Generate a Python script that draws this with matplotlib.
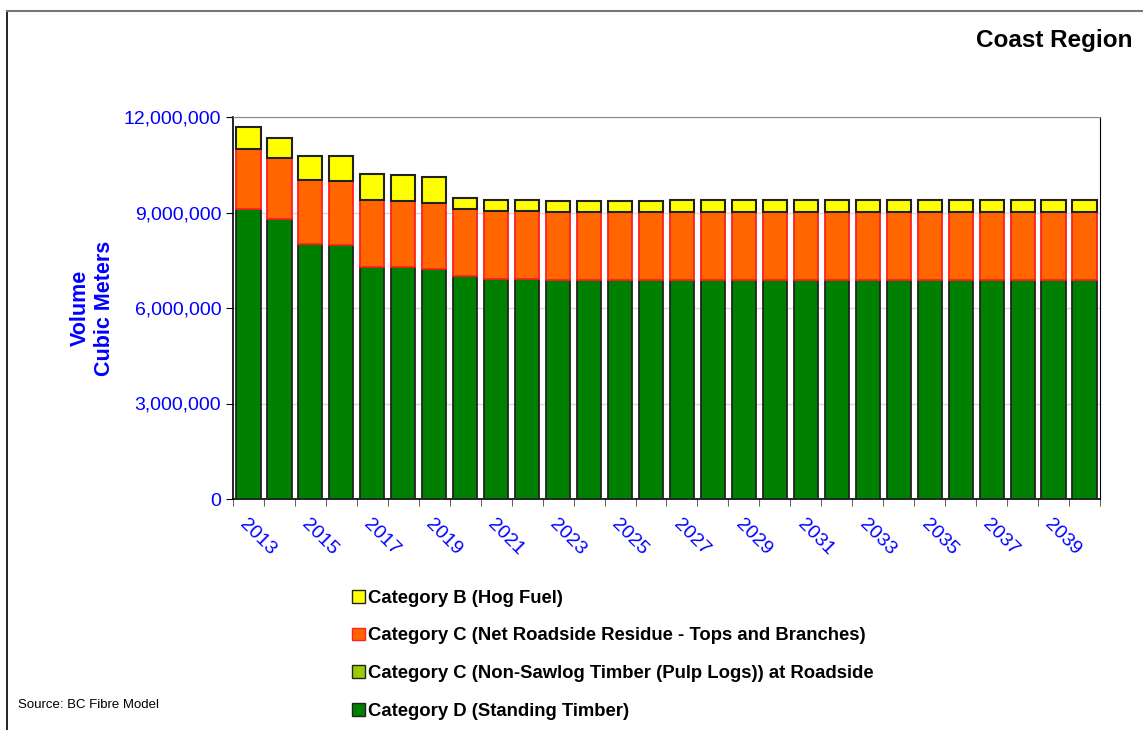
import numpy as np
import matplotlib.pyplot as plt
from matplotlib.patches import Patch
from matplotlib.lines import Line2D
from matplotlib.ticker import FuncFormatter

plt.rcParams['font.family'] = ['Liberation Sans', 'DejaVu Sans']

# datos (metros cubicos)
years = list(range(2013, 2041))
cat_d = [9120000, 8810000, 8010000, 7980000, 7300000, 7280000, 7220000, 7010000,
         6920000, 6920000, 6890000, 6890000, 6890000, 6890000, 6890000, 6890000,
         6890000, 6890000, 6890000, 6890000, 6890000, 6890000, 6890000, 6890000,
         6890000, 6890000, 6890000, 6890000]
cat_c_pulp = [0] * 28
cat_c_resid = [1870000, 1910000, 2010000, 2020000, 2090000, 2090000, 2090000, 2110000,
               2130000, 2130000, 2130000, 2130000, 2130000, 2130000, 2130000, 2130000,
               2130000, 2130000, 2130000, 2130000, 2130000, 2130000, 2130000, 2130000,
               2130000, 2130000, 2130000, 2130000]
cat_b = [690000, 630000, 760000, 770000, 810000, 800000, 810000, 350000,
         340000, 340000, 340000, 340000, 340000, 340000, 370000, 370000,
         370000, 370000, 370000, 370000, 370000, 370000, 370000, 370000,
         370000, 370000, 370000, 370000]

fig = plt.figure(figsize=(11.43, 7.30), dpi=100)
ax = fig.add_axes([233 / 1143, 1 - 499 / 730, (1100 - 233) / 1143, (499 - 117) / 730])

x = np.arange(len(years))
w = 0.78
d = np.array(cat_d)
p = np.array(cat_c_pulp)
r = np.array(cat_c_resid)
b = np.array(cat_b)

ax.bar(x, d, w, color='#008000', edgecolor='#222222', linewidth=1.3, zorder=3)
ax.bar(x, p, w, bottom=d, color='#99CC00', edgecolor='#222222', linewidth=1.3, zorder=3)
ax.bar(x, r, w, bottom=d + p, color='#FF6600', edgecolor='#FF2020', linewidth=1.3, zorder=3)
ax.bar(x, b, w, bottom=d + p + r, color='#FFFF00', edgecolor='#222222', linewidth=1.5, zorder=3)

ax.set_xlim(-0.5, len(years) - 0.5)
ax.set_ylim(0, 12000000)
ax.set_yticks([0, 3000000, 6000000, 9000000, 12000000])
ax.yaxis.set_major_formatter(FuncFormatter(lambda v, pos: f'{int(v):,}'))
ax.tick_params(axis='y', colors='black', labelcolor='#0000FF', labelsize=14, length=5, direction='out')
ax.grid(axis='y', color='#D9D9D9', linewidth=1, zorder=0)

# etiquetas de años impares
ax.set_xticks(x[::2])
ax.set_xticklabels([str(yr) for yr in years[::2]], rotation=-45, ha='left', va='top',
                   rotation_mode='anchor', color='#0000FF', fontsize=14)
ax.tick_params(axis='x', which='major', length=0, pad=12)
ax.set_xticks(np.arange(-0.5, len(years)), minor=True)
ax.tick_params(axis='x', which='minor', length=5, color='#444444')

ax.spines['top'].set_color('#888888')
ax.spines['left'].set_linewidth(1.2)
ax.spines['bottom'].set_linewidth(1.2)

ax.set_ylabel('Volume\nCubic Meters', color='#0000FF', fontsize=15.5, fontweight='bold',
              labelpad=6, linespacing=1.25)

fig.text(1133 / 1143, 1 - 40 / 730, 'Coast Region', ha='right', va='center',
         fontsize=17.5, fontweight='bold')
fig.text(18 / 1143, 1 - 705 / 730, 'Source: BC Fibre Model', ha='left', va='center',
         fontsize=9.5)

handles = [Patch(facecolor='#FFFF00', edgecolor='#222222'),
           Patch(facecolor='#FF6600', edgecolor='#FF2020'),
           Patch(facecolor='#99CC00', edgecolor='#222222'),
           Patch(facecolor='#008000', edgecolor='#222222')]
labels = ['Category B (Hog Fuel)',
          'Category C (Net Roadside Residue - Tops and Branches)',
          'Category C (Non-Sawlog Timber (Pulp Logs)) at Roadside',
          'Category D (Standing Timber)']
leg = fig.legend(handles, labels, loc='upper left', bbox_to_anchor=(335 / 1143, 1 - 573 / 730),
                 frameon=False, handlelength=0.7, handleheight=0.7, handletextpad=0.2,
                 labelspacing=1.13, prop={'weight': 'bold', 'size': 13.3})

# marco de la imagen
fig.add_artist(Line2D([7 / 1143, 7 / 1143], [0, 1 - 11 / 730], color='black', linewidth=1.2))
fig.add_artist(Line2D([7 / 1143, 1], [1 - 11 / 730, 1 - 11 / 730], color='#777777', linewidth=1.5))

plt.savefig('out.png', dpi=100)
